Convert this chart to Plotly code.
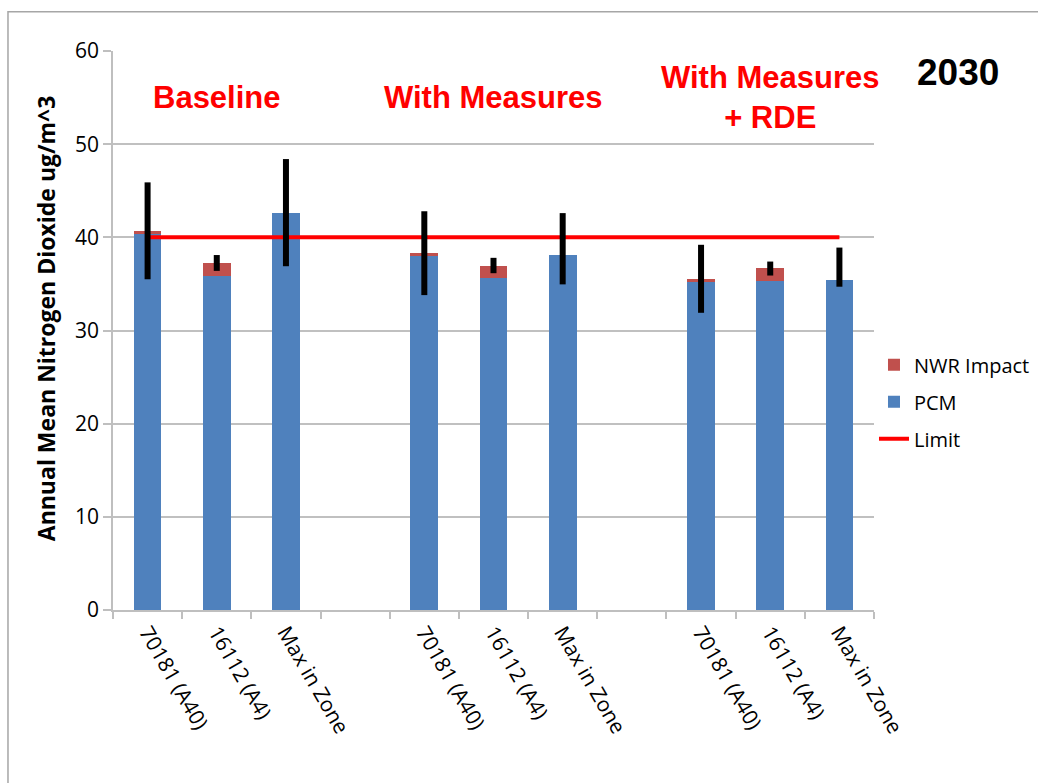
import plotly.graph_objects as go

# Receptor sites repeated within each scenario group
sites = ["70181 (A40)", "16112 (A4)", "Max in Zone"]
scenarios = ["Baseline", "With Measures", "With Measures<br>+ RDE"]

# Annual mean NO2 (ug/m^3), ordered scenario by scenario, site by site
pcm = [40.4, 35.9, 42.6, 38.1, 35.6, 38.1, 35.3, 35.3, 35.4]
nwr_impact = [0.3, 1.3, 0.0, 0.2, 1.3, 0.0, 0.2, 1.4, 0.0]
err_plus = [5.2, 0.9, 5.8, 4.5, 0.9, 4.5, 3.7, 0.7, 3.5]
err_minus = [5.2, 0.8, 5.7, 4.5, 0.75, 3.15, 3.6, 0.8, 0.7]
limit_values = [40, 40, 40, 40, 40, 40, 40, 40, 40, 40, 40]

y_ticks = [0, 10, 20, 30, 40, 50, 60]

# Slot layout: three sites per scenario with one empty slot between groups
slot_step = len(sites) + 1
n_slots = len(scenarios) * slot_step - 1
xpos, xlabels = [], []
for g, _ in enumerate(scenarios):
    for s, site in enumerate(sites):
        xpos.append(g * slot_step + s)
        xlabels.append(site)
totals = [p + n for p, n in zip(pcm, nwr_impact)]

BLUE = "#4f81bd"
RED_BAR = "#c0504d"
LABEL_FONT = "'Open Sans', Lato, sans-serif"
HEAD_FONT = "'Liberation Sans', Arial, sans-serif"

fig = go.Figure()
fig.add_trace(go.Bar(
    x=xpos, y=pcm, name="PCM", marker=dict(color=BLUE, line=dict(width=0)),
    width=0.4, legendrank=2, legendgroup="pcm",
))
fig.add_trace(go.Bar(
    x=xpos, y=nwr_impact, name="NWR Impact", marker=dict(color=RED_BAR, line=dict(width=0)),
    width=0.4, legendrank=1, legendgroup="nwr",
))
fig.add_trace(go.Scatter(
    x=list(range(n_slots)), y=limit_values, name="Limit", mode="lines",
    line=dict(color="#ff0000", width=4), legendrank=3, legendgroup="limit",
))
# Uncertainty ranges drawn about the top of each stacked bar
fig.add_trace(go.Scatter(
    x=xpos, y=totals, mode="markers", marker=dict(size=1, opacity=0),
    error_y=dict(type="data", symmetric=False, array=err_plus, arrayminus=err_minus,
                 color="black", thickness=6, width=0),
    showlegend=False, hoverinfo="skip",
))

# Scenario headings above each group
for g, label in enumerate(scenarios):
    centre = g * slot_step + 1
    fig.add_annotation(
        x=centre, xref="x", y=0.916, yref="paper",
        text=label, showarrow=False, xanchor="center", yanchor="middle",
        font=dict(family=HEAD_FONT, size=31, color="#ff0000", weight="bold"),
    )
fig.add_annotation(
    x=1.11, xref="paper", y=0.962, yref="paper", text="2030", showarrow=False,
    xanchor="center", yanchor="middle",
    font=dict(family=HEAD_FONT, size=37, color="black", weight="bold"),
)
fig.add_annotation(
    x=-0.088, xref="paper", y=0.522, yref="paper", textangle=-90,
    text="Annual Mean Nitrogen Dioxide ug/m^3", showarrow=False,
    xanchor="center", yanchor="middle",
    font=dict(family=LABEL_FONT, size=23, color="black", weight="bold"),
)

# Frame around the whole chart
fig.add_shape(type="rect", xref="paper", yref="paper",
              x0=-0.138, x1=1.3, y0=-0.4, y1=1.07,
              line=dict(color="#a6a6a6", width=1.5), layer="below")

fig.update_layout(
    width=1038, height=783,
    margin=dict(l=113, r=164, t=51, b=173, autoexpand=False),
    paper_bgcolor="white", plot_bgcolor="white",
    barmode="stack", bargap=0.6,
    font=dict(family=LABEL_FONT, size=18, color="black"),
    legend=dict(
        xref="container", yref="container",
        x=0.842, y=0.559, xanchor="left", yanchor="top",
        traceorder="grouped", tracegroupgap=8,
        font=dict(family=LABEL_FONT, size=20, color="black"),
        bgcolor="rgba(0,0,0,0)",
    ),
    xaxis=dict(
        range=[-0.5, n_slots - 0.5], tickmode="array", tickvals=xpos, ticktext=xlabels,
        tickangle=60, ticks="", showgrid=False, showline=True, automargin=False,
        linecolor="#bfbfbf", linewidth=1.5, zeroline=False,
        tickfont=dict(family=LABEL_FONT, size=21, color="black"),
        minor=dict(tickmode="linear", tick0=-0.5, dtick=1, ticks="outside",
                   ticklen=7, tickcolor="#bfbfbf", tickwidth=1.5, showgrid=False),
    ),
    yaxis=dict(
        range=[0, 60], tickmode="array", tickvals=y_ticks, showgrid=True,
        automargin=False,
        gridcolor="#c0c0c0", gridwidth=1.5, showline=True, linecolor="#bfbfbf",
        linewidth=1.5, zeroline=False, ticks="outside", ticklen=8,
        tickcolor="#bfbfbf", tickwidth=1.5,
        tickfont=dict(family=LABEL_FONT, size=21, color="black"),
    ),
)

fig.write_html("out.html")
